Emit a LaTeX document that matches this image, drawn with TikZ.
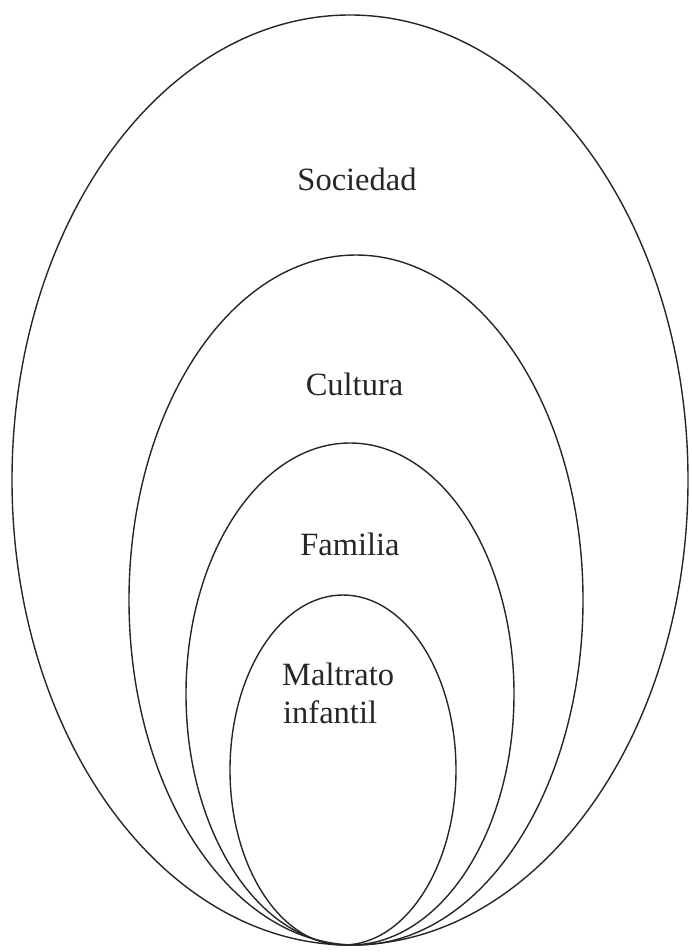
\documentclass[tikz,border=0pt]{standalone}
\usepackage{fontspec}
\setmainfont{Liberation Serif}
\begin{document}
\begin{tikzpicture}[x=1pt,y=-1pt,
  ring/.style={draw=black!85,line width=1.4pt},
  lbl/.style={font=\fontsize{32.5}{38}\selectfont,text=black!85,inner sep=0pt,anchor=base}]
\useasboundingbox (0,0) rectangle (691,952);
\draw[ring] (350,480) ellipse [x radius=338, y radius=465];
\draw[ring] (356,600) ellipse [x radius=227, y radius=345];
\draw[ring] (350,694) ellipse [x radius=164, y radius=251];
\draw[ring] (343,770) ellipse [x radius=113, y radius=175];
\node[lbl] (soc) at (357,190) {Sociedad};
\node[lbl] (cul) at (354.5,395) {Cultura};
\node[lbl] (fam) at (350,555) {Familia};
\node[lbl,anchor=base west] (mal) at (282,685) {Maltrato};
\node[lbl,anchor=base west] (inf) at (283,723) {infantil};
\end{tikzpicture}
\end{document}
